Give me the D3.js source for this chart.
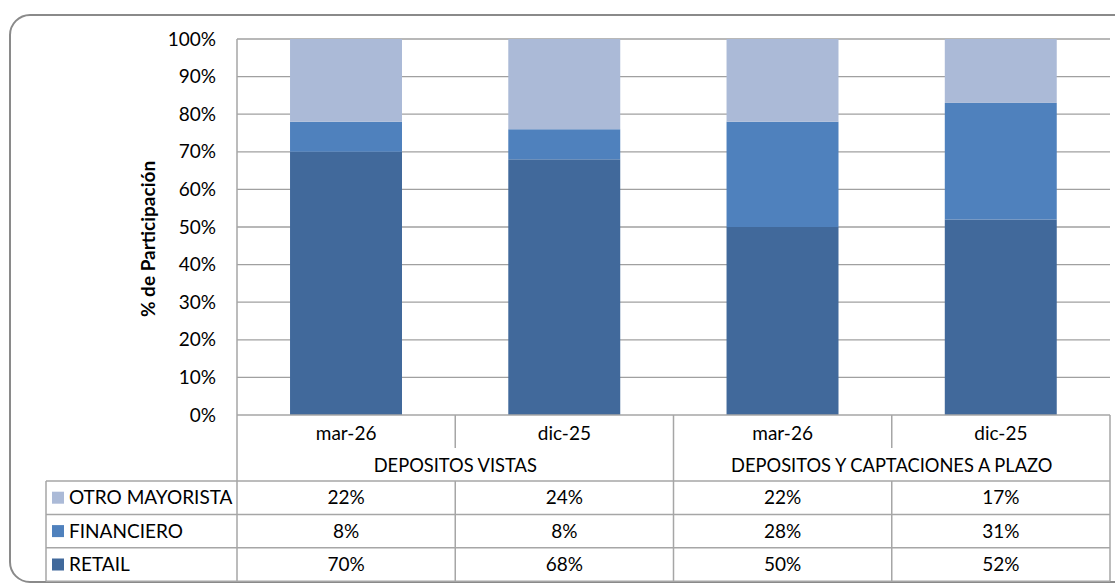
<!DOCTYPE html>
<html><head><meta charset="utf-8">
<script src="https://cdn.jsdelivr.net/npm/d3@7"></script>
<style>
html,body{margin:0;padding:0;background:#fff;}
svg{display:block;}
text{font-family:Lato,"Liberation Sans",sans-serif;fill:#000;}
</style></head>
<body>
<svg id="c" width="1115" height="586"></svg>
<script>
const groups = ["DEPOSITOS VISTAS", "DEPOSITOS Y CAPTACIONES A PLAZO"];
const periods = ["mar-26", "dic-25", "mar-26", "dic-25"];
const seriesNames = ["RETAIL", "FINANCIERO", "OTRO MAYORISTA"];
const retail = [70, 68, 50, 52];
const financiero = [8, 8, 28, 31];
const otroMayorista = [22, 24, 22, 17];
const yTicks = [0, 10, 20, 30, 40, 50, 60, 70, 80, 90, 100];
const colors = ["#41699b", "#4f81bd", "#abbad7"];

const svg = d3.select("#c");
const fs = 19;
const L = 237, R = 1110, T = 39, B = 415;
const tableLeft = 46;
const rowH = 33.4;
const catBottom = 448, groupBottom = 481;
const lineCol = "#a6a6a6";

// frame
svg.append("rect").attr("x", 10).attr("y", 15).attr("width", 1130).attr("height", 567)
  .attr("rx", 20).attr("fill", "#fff").attr("stroke", "#8a8a8a").attr("stroke-width", 2);

const x = d3.scaleBand().domain(d3.range(periods.length)).range([L, R]).padding(0);
const y = d3.scaleLinear().domain([0, 100]).range([B, T]);
const bw = x.bandwidth();

// gridlines
svg.append("g").selectAll("line").data(yTicks.filter(d => d > 0)).join("line")
  .attr("x1", L).attr("x2", R).attr("y1", d => y(d)).attr("y2", d => y(d))
  .attr("stroke", "#a0a0a0").attr("stroke-width", 1.3);

// stacked bars
const rows = periods.map((p, i) => ({ i, RETAIL: retail[i], FINANCIERO: financiero[i], "OTRO MAYORISTA": otroMayorista[i] }));
const stack = d3.stack().keys(seriesNames)(rows);
svg.append("g").selectAll("g").data(stack).join("g").attr("fill", (d, k) => colors[k])
  .selectAll("rect").data(d => d).join("rect")
  .attr("x", d => x(d.data.i) + bw * 0.243)
  .attr("width", bw * 0.513)
  .attr("y", d => y(d[1]))
  .attr("height", d => y(d[0]) - y(d[1]));

// y axis labels
svg.append("g").selectAll("text").data(yTicks).join("text")
  .attr("x", 216).attr("y", d => y(d)).attr("dy", "0.35em").attr("text-anchor", "end")
  .attr("font-size", fs).text(d => d + "%");

// y axis title
svg.append("text").attr("transform", "translate(155,239) rotate(-90)")
  .attr("text-anchor", "middle").attr("font-size", 19).attr("font-weight", "bold")
  .text("% de Participación");

// table lines
const g = svg.append("g").attr("stroke", lineCol).attr("stroke-width", 1.5);
g.append("line").attr("x1", L).attr("x2", L).attr("y1", T).attr("y2", groupBottom + 3 * rowH);
g.append("line").attr("x1", L).attr("x2", R).attr("y1", B).attr("y2", B);
g.append("line").attr("x1", R).attr("x2", R).attr("y1", B).attr("y2", groupBottom + 3 * rowH);
periods.forEach((p, i) => {
  if (i === 0) return;
  const xx = x(i);
  if (i === 2) {
    g.append("line").attr("x1", xx).attr("x2", xx).attr("y1", B).attr("y2", groupBottom + 3 * rowH);
  } else {
    g.append("line").attr("x1", xx).attr("x2", xx).attr("y1", B).attr("y2", catBottom);
    g.append("line").attr("x1", xx).attr("x2", xx).attr("y1", groupBottom).attr("y2", groupBottom + 3 * rowH);
  }
});
for (let r = 0; r <= 3; r++) {
  g.append("line").attr("x1", tableLeft).attr("x2", R)
    .attr("y1", groupBottom + r * rowH).attr("y2", groupBottom + r * rowH);
}
g.append("line").attr("x1", tableLeft).attr("x2", tableLeft).attr("y1", groupBottom).attr("y2", groupBottom + 3 * rowH);

// category labels
svg.append("g").selectAll("text").data(periods).join("text")
  .attr("x", (d, i) => x(i) + bw / 2).attr("y", 433).attr("dy", "0.35em")
  .attr("text-anchor", "middle").attr("font-size", fs).text(d => d);

// group labels
svg.append("g").selectAll("text").data(groups).join("text")
  .attr("x", (d, k) => x(k * 2) + bw).attr("y", 466).attr("dy", "0.35em")
  .attr("text-anchor", "middle").attr("font-size", 18.3).text(d => d);

// data table rows
const tableRows = [
  { name: "OTRO MAYORISTA", vals: otroMayorista, color: colors[2] },
  { name: "FINANCIERO", vals: financiero, color: colors[1] },
  { name: "RETAIL", vals: retail, color: colors[0] }
];
tableRows.forEach((row, r) => {
  const cy = groupBottom + r * rowH + rowH / 2;
  svg.append("rect").attr("x", 52).attr("y", cy - 6).attr("width", 12).attr("height", 12).attr("fill", row.color);
  svg.append("text").attr("x", 69).attr("y", cy).attr("dy", "0.35em").attr("font-size", fs).text(row.name);
  svg.append("g").selectAll("text").data(row.vals).join("text")
    .attr("x", (d, i) => x(i) + bw / 2).attr("y", cy).attr("dy", "0.35em")
    .attr("text-anchor", "middle").attr("font-size", fs).text(d => d + "%");
});
</script>
</body></html>
